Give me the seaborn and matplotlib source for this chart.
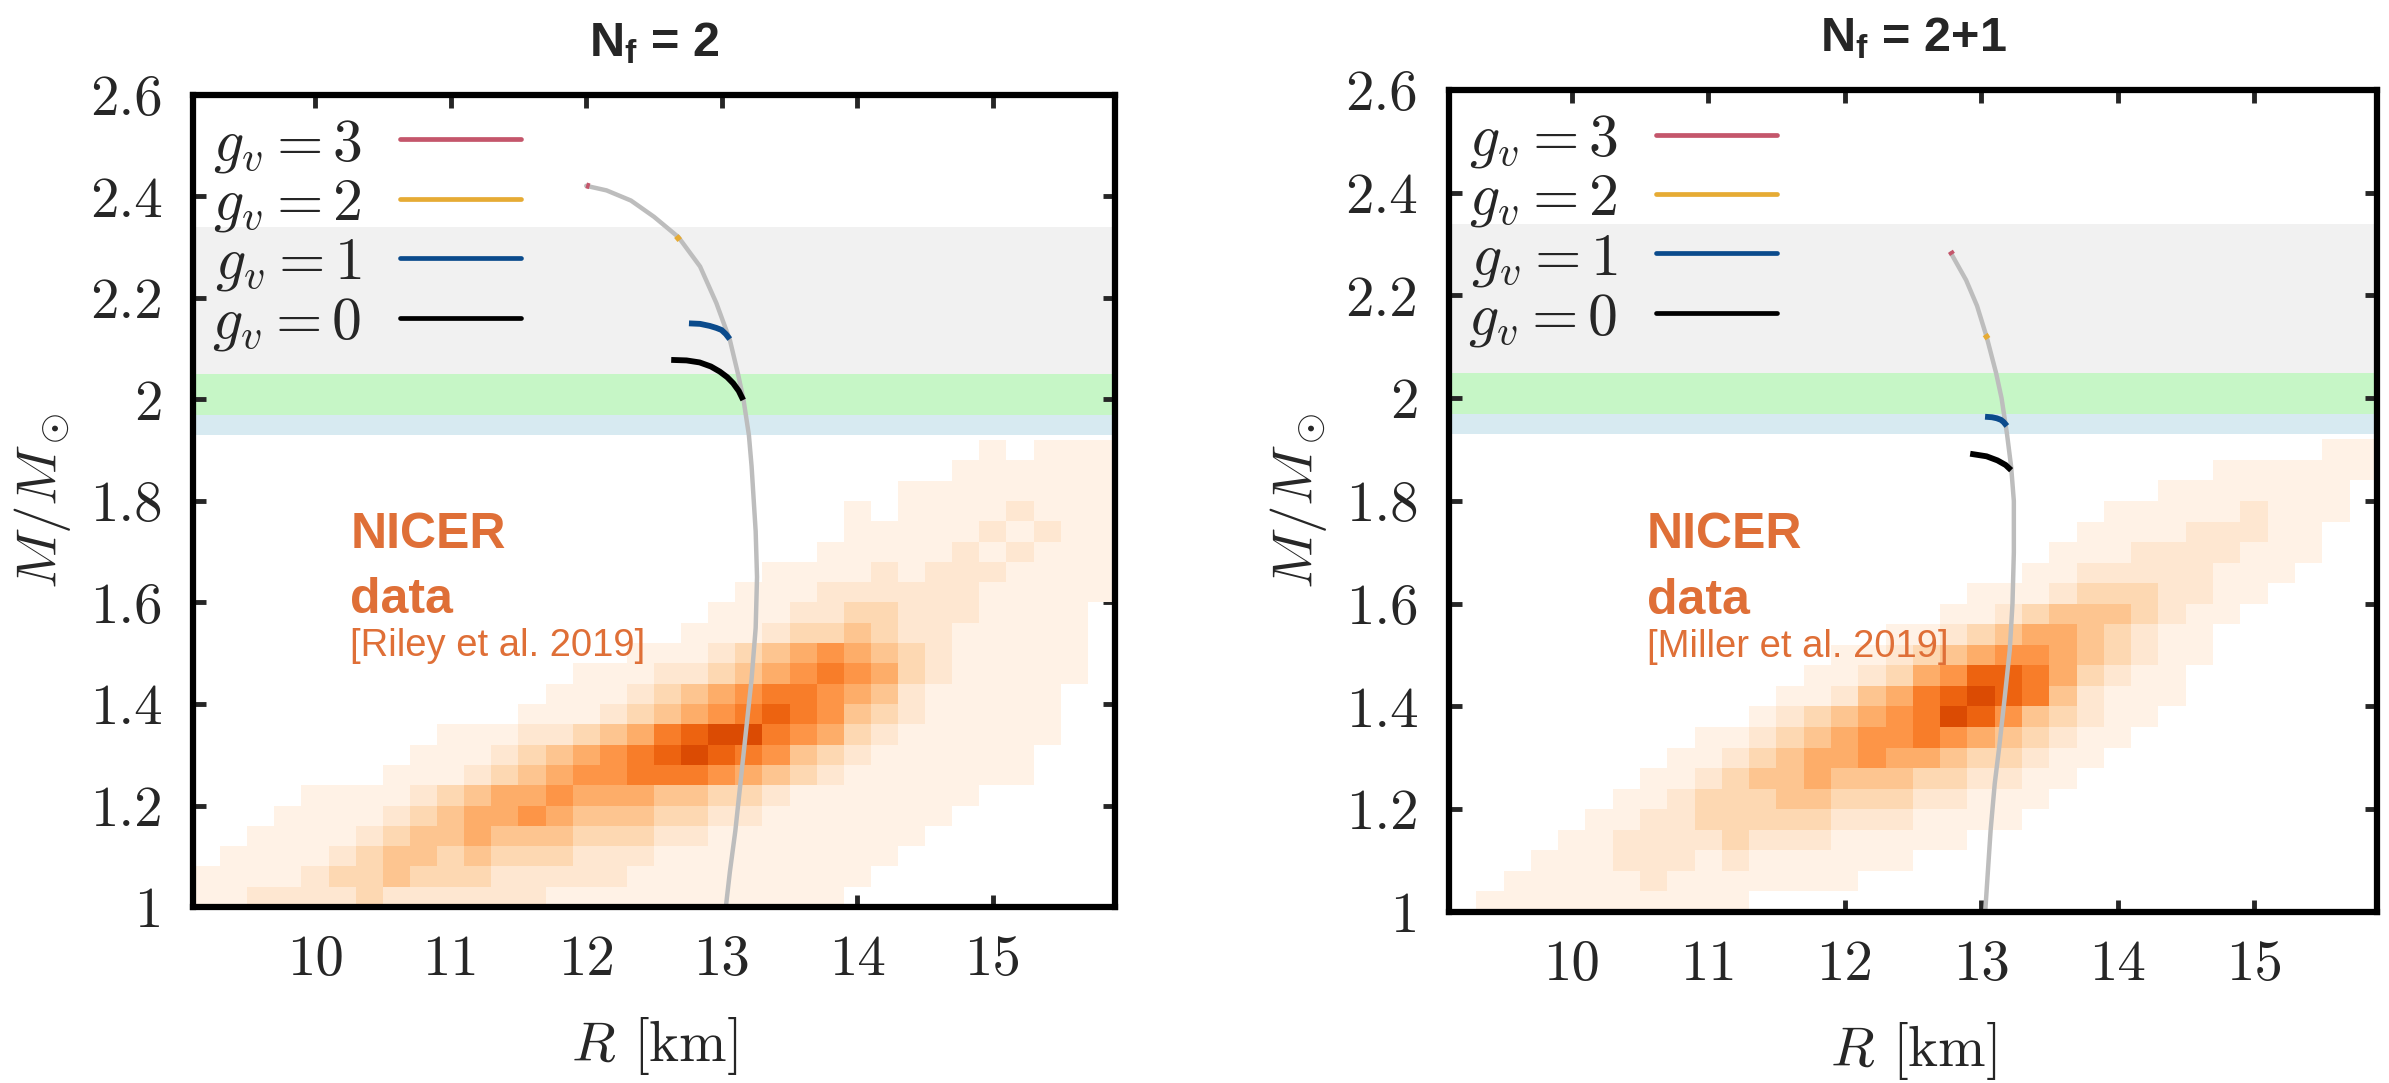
import numpy as np
import pandas as pd
import matplotlib
matplotlib.use("Agg")
import matplotlib.pyplot as plt
from matplotlib import font_manager
from matplotlib.lines import Line2D
from matplotlib.ticker import FuncFormatter
import seaborn as sns

# ---------------------------------------------------------------------------
# NICER mass-radius posteriors, binned on a regular (R, M) grid.
# Each string is one row of bins (top row = heaviest), digits are relative
# bin weights (0 = empty).
# ---------------------------------------------------------------------------
R_LO, R_HI, BIN_R = 9.1, 15.9, 0.2
M_LO, M_HI, BIN_M = 1.0, 1.92, 0.04

riley_rows = [
    "00000 00000 00000 00000 00000 00001 0111",
    "00000 00000 00000 00000 00000 00011 1111",
    "00000 00000 00000 00000 00000 01111 1111",
    "00000 00000 00000 00000 00001 01111 2111",
    "00000 00000 00000 00000 00001 11112 1211",
    "00000 00000 00000 00000 00011 11121 2111",
    "00000 00000 00000 00000 01111 21222 1111",
    "00000 00000 00000 00000 11122 22221 1111",
    "00000 00000 00000 00001 11223 32221 1110",
    "00000 00000 00000 00011 12334 32211 1110",
    "00000 00000 00000 01112 34565 43211 1110",
    "00000 00000 00001 11223 45676 53211 1110",
    "00000 00000 00011 12345 67765 42111 1100",
    "00000 00000 00111 23456 78764 32111 1100",
    "00000 00001 11223 45789 97653 21111 1100",
    "00000 00011 12345 67898 76432 11111 1000",
    "00000 00111 23456 67776 54321 11111 1000",
    "00001 11123 45565 55443 32111 11110 0000",
    "00011 11234 55654 44332 21111 11100 0000",
    "00111 12344 54443 33221 11111 11000 0000",
    "01111 23443 43332 22111 11111 10000 0000",
    "11112 33433 32222 21111 11111 00000 0000",
    "11222 23222 22211 11111 11110 00000 0000",
]

miller_rows = [
    "00000 00000 00000 00000 00000 00000 0011",
    "00000 00000 00000 00000 00000 00011 1111",
    "00000 00000 00000 00000 00000 01111 1110",
    "00000 00000 00000 00000 00001 11112 1110",
    "00000 00000 00000 00000 00011 11222 1100",
    "00000 00000 00000 00000 00111 22221 1100",
    "00000 00000 00000 00000 01122 22211 1000",
    "00000 00000 00000 00001 11233 32211 0000",
    "00000 00000 00000 00011 23444 32110 0000",
    "00000 00000 00000 01123 45543 21100 0000",
    "00000 00000 00001 12345 66543 21100 0000",
    "00000 00000 00011 23568 87532 11000 0000",
    "00000 00000 00112 45789 87421 11000 0000",
    "00000 00000 01234 56798 64321 10000 0000",
    "00000 00001 12345 66765 43211 00000 0000",
    "00000 00011 23455 65543 32110 00000 0000",
    "00000 00112 34454 44332 21100 00000 0000",
    "00000 01123 33443 33221 11000 00000 0000",
    "00000 11223 33332 22111 10000 00000 0000",
    "00001 12222 32221 11110 00000 00000 0000",
    "00011 12221 21111 11000 00000 00000 0000",
    "00111 11211 11111 00000 00000 00000 0000",
    "01111 11111 10000 00000 00000 00000 0000",
]

# Heavy pulsar mass constraints (lower, upper) in solar masses
band_lo = [2.05, 1.97, 1.93]
band_hi = [2.34, 2.05, 1.97]

# Mass-radius curves, N_f = 2
nf2_full_R = [13.03, 13.06, 13.10, 13.14, 13.18, 13.22, 13.25, 13.26, 13.25,
              13.22, 13.20, 13.16, 13.12, 13.06, 12.96, 12.84, 12.68, 12.50,
              12.33, 12.15, 12.00]
nf2_full_M = [1.00, 1.07, 1.15, 1.25, 1.35, 1.45, 1.55, 1.65, 1.74,
              1.868, 1.93, 2.00, 2.05, 2.117, 2.19, 2.262, 2.32, 2.36,
              2.392, 2.412, 2.421]
nf2_gv0_R = [12.627, 12.74, 12.837, 12.92, 12.985, 13.04, 13.084, 13.125, 13.158]
nf2_gv0_M = [2.078, 2.077, 2.073, 2.065, 2.055, 2.044, 2.032, 2.017, 1.999]
nf2_gv1_R = [12.758, 12.84, 12.911, 12.96, 12.998, 13.03, 13.059]
nf2_gv1_M = [2.150, 2.149, 2.145, 2.141, 2.137, 2.129, 2.119]
nf2_gv2_R = [12.665, 12.69]
nf2_gv2_M = [2.322, 2.314]
nf2_gv3_R = [12.00, 12.025]
nf2_gv3_M = [2.422, 2.420]

# Mass-radius curves, N_f = 2+1
nf21_full_R = [13.03, 13.05, 13.07, 13.10, 13.13, 13.17, 13.21, 13.23, 13.24,
               13.24, 13.22, 13.19, 13.15, 13.11, 13.04, 12.97, 12.89, 12.78]
nf21_full_M = [1.00, 1.08, 1.16, 1.25, 1.315, 1.41, 1.51, 1.60, 1.70,
               1.80, 1.867, 1.93, 2.00, 2.049, 2.12, 2.18, 2.23, 2.282]
nf21_gv0_R = [12.92, 13.04, 13.12, 13.18, 13.22]
nf21_gv0_M = [1.892, 1.887, 1.879, 1.870, 1.860]
nf21_gv1_R = [13.029, 13.08, 13.115, 13.145, 13.164, 13.189]
nf21_gv1_M = [1.964, 1.963, 1.961, 1.958, 1.954, 1.946]
nf21_gv2_R = [13.03, 13.05]
nf21_gv2_M = [2.124, 2.116]
nf21_gv3_R = [12.775, 12.79]
nf21_gv3_M = [2.286, 2.280]

gv_labels = [r"$g_v = 3$", r"$g_v = 2$", r"$g_v = 1$", r"$g_v = 0$"]
x_ticks = [10, 11, 12, 13, 14, 15]
y_ticks = [1.0, 1.2, 1.4, 1.6, 1.8, 2.0, 2.2, 2.4, 2.6]

# ---------------------------------------------------------------------------
# Styling
# ---------------------------------------------------------------------------
GV_COLORS = ["#c4566b", "#e6ab34", "#0b4b8c", "#000000"]
BAND_COLORS = ["#f1f1f1", "#c6f6c6", "#d7eaf1"]
CURVE_GRAY = "#bdbdbd"
NICER_ORANGE = "#df6f37"

sns.set_style("ticks")


def pick_font(*names):
    have = {f.name for f in font_manager.fontManager.ttflist}
    for n in names:
        if n in have:
            return n
    return "DejaVu Sans"


SANS = pick_font("Liberation Sans", "Arial", "Helvetica")
NARROW = pick_font("Liberation Sans Narrow", "Liberation Sans")

plt.rcParams.update({
    "font.family": ["cmr10"],
    "mathtext.fontset": "cm",
    "mathtext.rm": NARROW,
    "mathtext.bf": f"{NARROW}:bold",
    "mathtext.it": f"{NARROW}:italic",
    "axes.unicode_minus": False,
    "axes.linewidth": 4.5,
    "axes.edgecolor": "black",
})

FS = 41


def grid_frame(rows):
    vals = np.array([[int(c) for c in r.replace(" ", "")] for r in rows[::-1]],
                    dtype=float)
    rc = R_LO + BIN_R * (np.arange(vals.shape[1]) + 0.5)
    mc = M_LO + BIN_M * (np.arange(vals.shape[0]) + 0.5)
    rr, mm = np.meshgrid(rc, mc)
    df = pd.DataFrame({"R": rr.ravel(), "M": mm.ravel(), "w": vals.ravel()})
    return df[df["w"] > 0]


def draw_panel(ax, rows, full, segs, title, cite, text_xy):
    for lo, hi, c in zip(band_lo, band_hi, BAND_COLORS):
        ax.axhspan(lo, hi, color=c, lw=0, zorder=0)

    sns.histplot(grid_frame(rows), x="R", y="M", weights="w",
                 binwidth=(BIN_R, BIN_M),
                 binrange=((R_LO, R_HI), (M_LO, M_HI)),
                 cmap="Oranges", vmin=0.7, vmax=12.0, ax=ax, zorder=1)

    sns.lineplot(x=full[0], y=full[1], sort=False, estimator=None,
                 color=CURVE_GRAY, lw=3.2, ax=ax, zorder=3)
    for (rv, mv), c in zip(segs, GV_COLORS):
        sns.lineplot(x=rv, y=mv, sort=False, estimator=None, color=c,
                     lw=4.2, ax=ax, zorder=4, solid_capstyle="butt")

    handles = [Line2D([], [], color=c, lw=3.4) for c in GV_COLORS]
    ax.legend(handles, gv_labels, loc="upper left",
              bbox_to_anchor=(0.021, 0.972), frameon=False, fontsize=43,
              markerfirst=False, handlelength=2.03, handletextpad=0.64,
              labelspacing=0.05, borderpad=0, borderaxespad=0)

    tx, ty = text_xy
    ax.text(tx, ty, "NICER", color=NICER_ORANGE, fontsize=36,
            fontweight="bold", family=SANS, va="baseline", zorder=5)
    ax.text(tx, ty - 0.128, "data", color=NICER_ORANGE, fontsize=36,
            fontweight="bold", family=SANS, va="baseline", zorder=5)
    ax.text(tx, ty - 0.212, cite, color=NICER_ORANGE, fontsize=27.5,
            family=SANS, va="baseline", zorder=5)

    ax.set_xlim(R_LO, R_HI)
    ax.set_ylim(1.0, 2.6)
    ax.set_xticks(x_ticks)
    ax.set_yticks(y_ticks)
    fmt = FuncFormatter(lambda v, p: f"{v:g}")
    ax.xaxis.set_major_formatter(fmt)
    ax.yaxis.set_major_formatter(fmt)
    ax.tick_params(which="both", direction="in", top=True, right=True,
                   length=9, width=3.5, labelsize=FS)
    ax.tick_params(axis="y", pad=22)
    ax.tick_params(axis="x", pad=20)
    for s in ax.spines.values():
        s.set_linewidth(4.5)
        s.set_zorder(6)

    ax.set_xlabel(r"$R$ [km]", fontsize=FS, labelpad=21)
    ax.set_ylabel(r"$M/M_\odot$", fontsize=FS, labelpad=12)
    ax.set_title(title, fontsize=35, fontweight="bold", family=NARROW,
                 math_fontfamily="custom", pad=28)


fig = plt.figure(figsize=(23.89, 10.83), dpi=100)
ax_l = fig.add_axes([0.0808, 0.1625, 0.3859, 0.7498])
ax_r = fig.add_axes([0.6065, 0.1579, 0.3884, 0.7590])

draw_panel(ax_l, riley_rows, (nf2_full_R, nf2_full_M),
           [(nf2_gv3_R, nf2_gv3_M), (nf2_gv2_R, nf2_gv2_M),
            (nf2_gv1_R, nf2_gv1_M), (nf2_gv0_R, nf2_gv0_M)],
           r"N$_{\mathbf{f}}$ = 2", "[Riley et al. 2019]", (10.26, 1.707))
draw_panel(ax_r, miller_rows, (nf21_full_R, nf21_full_M),
           [(nf21_gv3_R, nf21_gv3_M), (nf21_gv2_R, nf21_gv2_M),
            (nf21_gv1_R, nf21_gv1_M), (nf21_gv0_R, nf21_gv0_M)],
           r"N$_{\mathbf{f}}$ = 2+1", "[Miller et al. 2019]", (10.55, 1.709))

fig.savefig("out.png", dpi=100)
